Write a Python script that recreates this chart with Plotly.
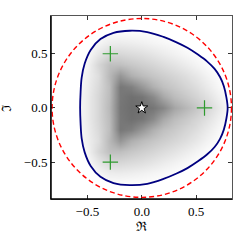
import plotly.graph_objects as go

# ---- data ----
# boundary curve (upper half, from the right vertex going counter-clockwise); lower half is its mirror
curve_x = [0.79, 0.778, 0.755, 0.72, 0.67, 0.60, 0.52, 0.42, 0.32, 0.20, 0.05, -0.11, -0.26, -0.38, -0.47, -0.525, -0.553, -0.563, -0.567]
curve_y = [0.0, 0.10, 0.20, 0.285, 0.36, 0.43, 0.49, 0.555, 0.605, 0.655, 0.700, 0.712, 0.693, 0.635, 0.535, 0.41, 0.28, 0.14, 0.0]

roots_x = [0.577, -0.289, -0.289]
roots_y = [0.0, 0.5, -0.5]
center_x = [0.0]
center_y = [0.0]
circle_radius = 0.825

# gray levels (0=black, 255=white) of the shading, on a grid; rows are y = 0.0 .. 0.7
shade_x = [-0.6, -0.5, -0.4, -0.3, -0.2, -0.1, 0.0, 0.1, 0.2, 0.3, 0.4, 0.5, 0.6, 0.7, 0.8]
shade_y_upper = [0.0, 0.1, 0.2, 0.3, 0.4, 0.5, 0.6, 0.7]
shade_upper = [
    [250, 236, 215, 185, 118, 110, 112, 118, 135, 165, 182, 198, 214, 232, 250],
    [250, 236, 215, 188, 120, 112, 118, 138, 168, 188, 200, 212, 225, 240, 252],
    [252, 238, 218, 190, 120, 128, 152, 176, 192, 202, 212, 222, 235, 247, 255],
    [253, 240, 222, 185, 150, 175, 188, 198, 206, 214, 222, 232, 243, 252, 255],
    [254, 244, 215, 192, 192, 200, 207, 214, 221, 228, 236, 244, 252, 255, 255],
    [255, 250, 232, 216, 216, 220, 224, 230, 236, 242, 248, 253, 255, 255, 255],
    [255, 254, 246, 237, 236, 238, 241, 245, 248, 251, 255, 255, 255, 255, 255],
    [255, 255, 255, 252, 252, 253, 253, 254, 255, 255, 255, 255, 255, 255, 255],
]

x_ticks = [-0.5, 0.0, 0.5]
x_ticklabels = ["\u22120.5", "0.0", "0.5"]
y_ticks = [-0.5, 0.0, 0.5]
y_ticklabels = ["\u22120.5", "0.0", "0.5"]
x_range = [-0.835, 0.83]
y_range = [-0.84, 0.848]

# ---- build mirrored arrays ----
shade_y = [-v for v in shade_y_upper[:0:-1]] + shade_y_upper
shade_z = shade_upper[:0:-1] + shade_upper

full_x = curve_x + curve_x[-2::-1]
full_y = curve_y + [-v for v in curve_y[-2::-1]]

fig = go.Figure()

fig.add_trace(go.Heatmap(
    x=shade_x, y=shade_y, z=shade_z, zmin=0, zmax=255, zsmooth="best",
    colorscale=[[0, "rgb(0,0,0)"], [1, "rgb(255,255,255)"]],
    showscale=False, hoverinfo="skip"))

# white mask outside the boundary (outer box clockwise, inner curve counter-clockwise)
box_x = [-2, -2, 2, 2, -2]
box_y = [-2, 2, 2, -2, -2]
fig.add_trace(go.Scatter(
    x=box_x + [None] + full_x, y=box_y + [None] + full_y,
    mode="lines", fill="toself", fillcolor="white",
    line=dict(width=0, color="white"), line_shape="spline",
    hoverinfo="skip", showlegend=False))

fig.add_trace(go.Scatter(
    x=full_x, y=full_y, mode="lines", line=dict(color="#000080", width=1.8, shape="spline"),
    hoverinfo="skip", showlegend=False))

fig.add_trace(go.Scatter(
    x=roots_x, y=roots_y, mode="markers",
    marker=dict(symbol="cross-thin", size=11, line=dict(color="#2e9a2e", width=1.2)),
    showlegend=False))

fig.add_trace(go.Scatter(
    x=center_x, y=center_y, mode="markers",
    marker=dict(symbol="star", size=9, color="white", line=dict(color="black", width=1)),
    showlegend=False))

fig.add_shape(type="circle", xref="x", yref="y",
              x0=-circle_radius, y0=-circle_radius, x1=circle_radius, y1=circle_radius,
              line=dict(color="red", width=1.4, dash="5px,3px"), layer="above")

# left and bottom spines in black
fig.add_shape(type="line", xref="paper", yref="paper", x0=0, x1=0, y0=0, y1=1,
              line=dict(color="black", width=1.5), layer="above")
fig.add_shape(type="line", xref="paper", yref="paper", x0=0, x1=1, y0=0, y1=0,
              line=dict(color="black", width=1.5), layer="above")

tick_font = dict(family="Liberation Serif", size=13, color="black")
fig.update_xaxes(range=x_range, tickvals=x_ticks, ticktext=x_ticklabels, automargin=False,
                 ticks="inside", ticklen=4, tickcolor="#333", showgrid=False, zeroline=False,
                 showline=True, linecolor="#555", linewidth=1, mirror="ticks", tickfont=tick_font)
fig.update_yaxes(range=y_range, tickvals=y_ticks, ticktext=y_ticklabels, automargin=False,
                 ticks="inside", ticklen=4, tickcolor="#333", showgrid=False, zeroline=False,
                 showline=True, linecolor="#555", linewidth=1, mirror="ticks", tickfont=tick_font)

fig.add_annotation(text="\u211c", xref="paper", yref="paper", x=0.502, y=-0.15,
                   showarrow=False, xanchor="center", yanchor="middle",
                   font=dict(family="DejaVu Serif", size=13, color="black"))
fig.add_annotation(text="\u2111", xref="paper", yref="paper", x=-0.246, y=0.5,
                   showarrow=False, xanchor="center", yanchor="middle", textangle=-90,
                   font=dict(family="DejaVu Serif", size=13, color="black"))

fig.update_layout(width=241, height=241, margin=dict(l=51, r=9, t=16, b=42, autoexpand=False),
                  plot_bgcolor="white", paper_bgcolor="white", showlegend=False)

fig.write_html("out.html", config={"displayModeBar": False, "staticPlot": True},
               post_script="document.body.style.margin='0px';")
